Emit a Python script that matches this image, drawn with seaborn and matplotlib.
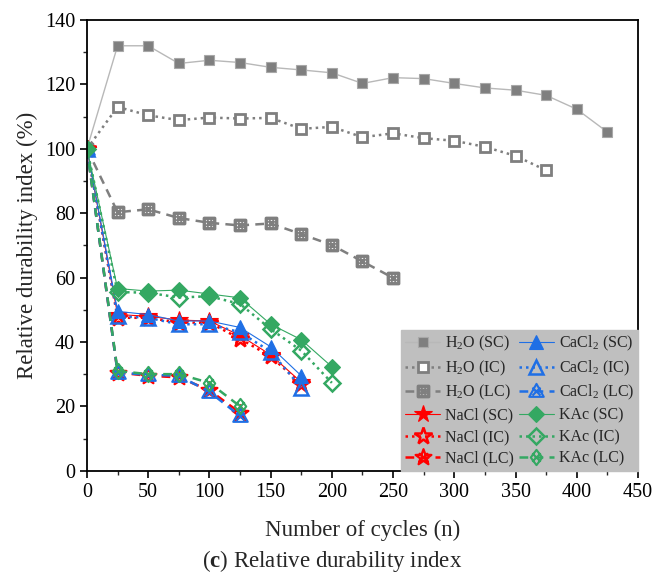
import matplotlib
matplotlib.use("Agg")
import matplotlib.pyplot as plt
from matplotlib.path import Path
from matplotlib.lines import Line2D
from matplotlib.ticker import MultipleLocator
import seaborn as sns

# ---- data: relative durability index (%) vs. number of freeze-thaw cycles ----
cyc_h2o_sc = [0, 25, 50, 75, 100, 125, 150, 175, 200, 225, 250, 275, 300, 325, 350, 375, 400, 425]
h2o_sc = [100, 132.0, 132.0, 126.5, 127.5, 126.8, 125.3, 124.5, 123.6, 120.3, 122.1, 121.8, 120.3, 118.9, 118.2, 116.6, 112.3, 105.2]

cyc_h2o_ic = [0, 25, 50, 75, 100, 125, 150, 175, 200, 225, 250, 275, 300, 325, 350, 375]
h2o_ic = [100, 113.0, 110.4, 108.9, 109.7, 109.4, 109.6, 106.2, 106.8, 103.6, 104.8, 103.3, 102.5, 100.6, 97.8, 93.3]

cyc_h2o_lc = [0, 25, 50, 75, 100, 125, 150, 175, 200, 225, 250]
h2o_lc = [100, 80.3, 81.2, 78.5, 77.0, 76.2, 76.8, 73.5, 70.1, 65.0, 59.9]

cyc_salt = [0, 25, 50, 75, 100, 125, 150, 175]
cyc_kac = [0, 25, 50, 75, 100, 125, 150, 175, 200]
cyc_lc = [0, 25, 50, 75, 100, 125]

nacl_sc = [100, 48.5, 48.0, 46.8, 46.5, 42.0, 36.0, 27.5]
nacl_ic = [100, 47.5, 47.5, 46.0, 46.0, 41.0, 35.5, 27.0]
nacl_lc = [100, 30.5, 29.5, 29.0, 25.0, 18.0]

cacl2_sc = [100, 49.5, 48.5, 46.5, 46.5, 44.5, 38.5, 29.5]
cacl2_ic = [100, 48.0, 47.5, 45.5, 45.5, 43.0, 37.0, 25.8]
cacl2_lc = [100, 30.5, 29.8, 29.5, 24.5, 17.0]

kac_sc = [100, 56.6, 55.8, 56.1, 54.9, 53.7, 45.5, 40.7, 32.3]
kac_ic = [100, 55.5, 55.3, 53.8, 54.2, 51.8, 44.0, 37.3, 27.3]
kac_lc = [100, 31.0, 30.0, 30.0, 27.3, 20.0]

x_ticks = [0, 50, 100, 150, 200, 250, 300, 350, 400, 450]
y_ticks = [0, 20, 40, 60, 80, 100, 120, 140]

# ---- style ----
sns.set_theme(style="ticks")
plt.rcParams["font.family"] = ["Liberation Serif", "DejaVu Serif"]
plt.rcParams["mathtext.fontset"] = "custom"
plt.rcParams["mathtext.rm"] = "Liberation Serif"
plt.rcParams["mathtext.it"] = "Liberation Serif:italic"
plt.rcParams["mathtext.bf"] = "Liberation Serif:bold"

GRAY_M = "#7f7f7f"
GRAY_L = "#b8b8b8"
RED = "#ff0000"
BLUE = "#1f6fe5"
GREEN = "#34a862"

DOT = (0, (1.0, 1.6))
DASH = (0, (3.5, 2.5))


def crossed(poly):
    """Closed outline with an X drawn through it."""
    xs = [p[0] for p in poly]
    ys = [p[1] for p in poly]
    a = 0.5 * max(max(xs) - min(xs), max(ys) - min(ys)) * 0.55
    return Path.make_compound_path(
        Path(poly + [poly[0]], closed=True),
        Path([(-a, -a), (a, a)]),
        Path([(-a, a), (a, -a)]),
    )


sq_x = crossed([(-1, -1), (1, -1), (1, 1), (-1, 1)])
tri_x = crossed([(0, 1), (-0.95, -0.7), (0.95, -0.7)])
star_pts = Path.unit_regular_star(5, 0.4).vertices[:-1].tolist()
star_x = crossed([tuple(p) for p in star_pts])
dia_x = crossed([(0, 1), (-0.75, 0), (0, -1), (0.75, 0)])

series = [
    # label, x, y, line color, linestyle, lw, marker, ms, face, edge, mew
    ("H$_2$O (SC)", cyc_h2o_sc, h2o_sc, GRAY_L, "-", 1.0, "s", 7.5, GRAY_M, "#a8a8a8", 0.8),
    ("H$_2$O (IC)", cyc_h2o_ic, h2o_ic, GRAY_M, DOT, 1.8, "s", 7.5, "white", GRAY_M, 2.0),
    ("H$_2$O (LC)", cyc_h2o_lc, h2o_lc, GRAY_M, DASH, 1.8, sq_x, 7.5, "none", GRAY_M, 2.4),
    ("NaCl (SC)", cyc_salt, nacl_sc, RED, "-", 0.8, "*", 13, RED, RED, 0.8),
    ("NaCl (IC)", cyc_salt, nacl_ic, RED, DOT, 1.8, "*", 13, "none", RED, 1.8),
    ("NaCl (LC)", cyc_lc, nacl_lc, RED, DASH, 1.8, star_x, 12, "none", RED, 1.6),
    ("CaCl$_2$ (SC)", cyc_salt, cacl2_sc, BLUE, "-", 0.8, "^", 10, BLUE, BLUE, 0.8),
    ("CaCl$_2$ (IC)", cyc_salt, cacl2_ic, BLUE, DOT, 1.8, "^", 10, "none", BLUE, 1.8),
    ("CaCl$_2$ (LC)", cyc_lc, cacl2_lc, BLUE, DASH, 1.8, tri_x, 11, "none", BLUE, 1.5),
    ("KAc (SC)", cyc_kac, kac_sc, GREEN, "-", 0.8, "D", 8, GREEN, GREEN, 0.8),
    ("KAc (IC)", cyc_kac, kac_ic, GREEN, DOT, 1.8, "D", 8, "none", GREEN, 1.8),
    ("KAc (LC)", cyc_lc, kac_lc, GREEN, DASH, 1.8, dia_x, 11, "none", GREEN, 1.5),
]

fig = plt.figure(figsize=(6.52, 5.77), dpi=100)
ax = fig.add_axes([0.1334, 0.1842, 0.8451, 0.7811])

handles = []
for lab, xs, ys, lc, ls, lw, mk, ms, fc, ec, mew in series:
    style = dict(color=lc, linestyle=ls, linewidth=lw, marker=mk, markersize=ms,
                 markerfacecolor=fc, markeredgecolor=ec, markeredgewidth=mew)
    sns.lineplot(x=xs, y=ys, ax=ax, estimator=None, errorbar=None, legend=False, **style)
    handles.append(Line2D([], [], label=lab, **style))

ax.set_xlim(0, 450)
ax.set_ylim(0, 140)
ax.set_xticks(x_ticks)
ax.set_yticks(y_ticks)
ax.xaxis.set_minor_locator(MultipleLocator(25))
ax.yaxis.set_minor_locator(MultipleLocator(10))
ax.tick_params(which="major", direction="out", length=5, width=1.2, labelsize=14.5,
               colors="black", top=False, right=False)
ax.tick_params(which="minor", direction="out", length=3, width=1.0, top=False, right=False)
for s in ax.spines.values():
    s.set_visible(True)
    s.set_linewidth(1.3)
    s.set_color("black")

ax.set_xlabel("Number of cycles (n)", fontsize=16.5, labelpad=13)
ax.set_ylabel("Relative durability index (%)", fontsize=16.5, labelpad=5)

leg = ax.legend(handles=handles, ncol=2, loc="lower right", bbox_to_anchor=(1.0, 0.0),
                borderaxespad=0.0, fontsize=11.5, frameon=True, fancybox=False,
                facecolor="#bfbfbf", edgecolor="#bfbfbf", framealpha=1.0,
                handlelength=2.2, handletextpad=0.3, columnspacing=0.3,
                labelspacing=0.34, borderpad=0.25)

fig.text(0.509, 0.028, r"($\mathbf{c}$) Relative durability index", ha="center", va="center",
         fontsize=16.5)

fig.savefig("out.png", dpi=100)
